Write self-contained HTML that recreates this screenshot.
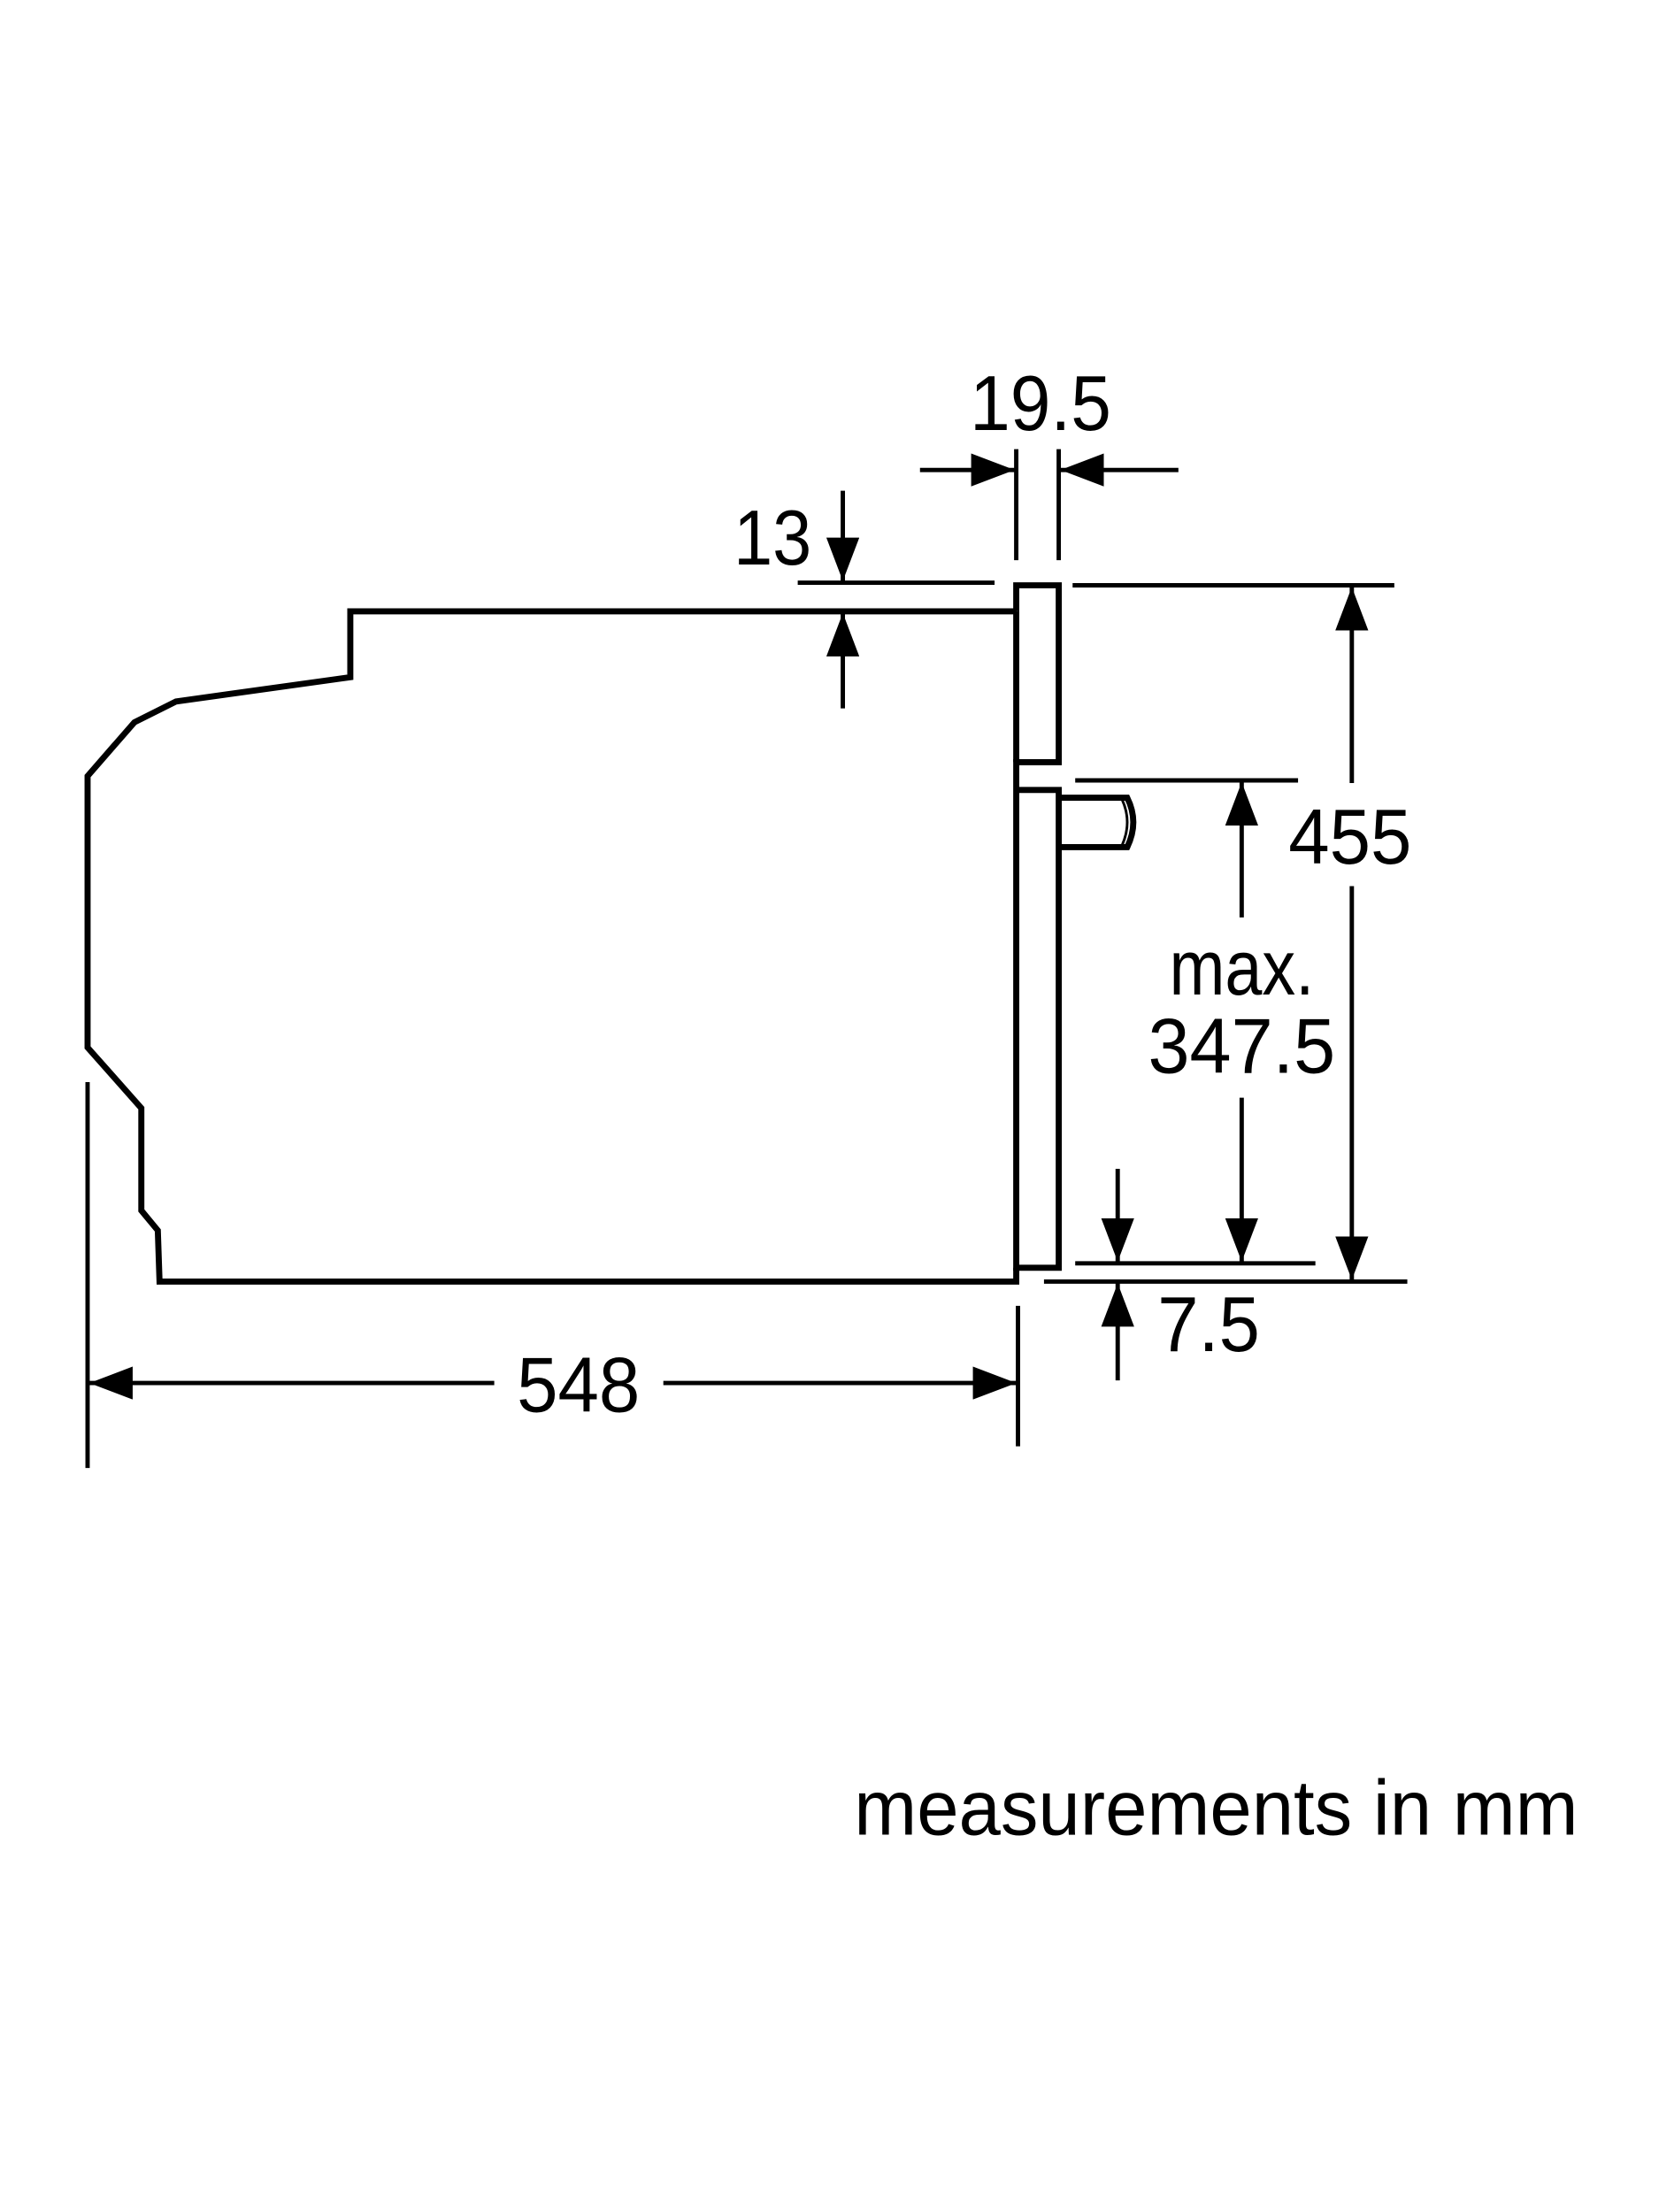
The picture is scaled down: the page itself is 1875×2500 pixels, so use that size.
<!DOCTYPE html>
<html><head><meta charset="utf-8"><style>html,body{margin:0;padding:0;background:#fff}svg{display:block}</style></head>
<body>
<svg width="1875" height="2500" viewBox="0 0 1875 2500" xmlns="http://www.w3.org/2000/svg" font-family="Liberation Sans, Arial, sans-serif">
<defs>
<marker id="ah" viewBox="0 0 50 38" refX="50" refY="19" markerWidth="50" markerHeight="38" markerUnits="userSpaceOnUse" orient="auto">
<path d="M0,0 L50,19 L0,38 Z" fill="#000"/>
</marker>
</defs>
<g transform="scale(0.98)">
<g fill="none" stroke="#000" stroke-width="7" stroke-linejoin="miter">
<polyline points="1172,705 404,705 404,781 203,809 155,833 101,895 101,1208 163,1278 163,1396 182,1419 184,1478 1172,1478 1172,1462"/>
<polyline points="1172,705 1172,675 1221,675 1221,879 1172,879 1172,911 1221,911 1221,1462 1172,1462 1172,911"/>
<line x1="1172" y1="705" x2="1172" y2="879"/>
<path d="M1221,920 L1300,920 Q1314,948 1300,977 L1221,977"/>
</g>
<path d="M1294,922 Q1306,948 1294,975" stroke="#000" stroke-width="3" fill="none"/>
<g stroke="#000" stroke-width="5" fill="none">
<line x1="1172" y1="518" x2="1172" y2="646"/>
<line x1="1221" y1="518" x2="1221" y2="646"/>
<line x1="1061" y1="542" x2="1170" y2="542" marker-end="url(#ah)"/>
<line x1="1359" y1="542" x2="1223" y2="542" marker-end="url(#ah)"/>
<line x1="920" y1="672" x2="1147" y2="672"/>
<line x1="972" y1="566" x2="972" y2="670" marker-end="url(#ah)"/>
<line x1="972" y1="817" x2="972" y2="707" marker-end="url(#ah)"/>
<line x1="1237" y1="675" x2="1608" y2="675"/>
<line x1="1204" y1="1478" x2="1623" y2="1478"/>
<line x1="1559" y1="903" x2="1559" y2="677" marker-end="url(#ah)"/>
<line x1="1559" y1="1022" x2="1559" y2="1476" marker-end="url(#ah)"/>
<line x1="1240" y1="900" x2="1497" y2="900"/>
<line x1="1240" y1="1457" x2="1517" y2="1457"/>
<line x1="1432" y1="1058" x2="1432" y2="902" marker-end="url(#ah)"/>
<line x1="1432" y1="1266" x2="1432" y2="1455" marker-end="url(#ah)"/>
<line x1="1289" y1="1348" x2="1289" y2="1455" marker-end="url(#ah)"/>
<line x1="1289" y1="1592" x2="1289" y2="1480" marker-end="url(#ah)"/>
<line x1="101" y1="1248" x2="101" y2="1693"/>
<line x1="1174" y1="1506" x2="1174" y2="1668"/>
<line x1="570" y1="1595" x2="103" y2="1595" marker-end="url(#ah)"/>
<line x1="765" y1="1595" x2="1172" y2="1595" marker-end="url(#ah)"/>
</g>
<g fill="#000" font-size="90">
<text x="1200" y="496" text-anchor="middle" textLength="163" lengthAdjust="spacingAndGlyphs">19.5</text>
<text x="891" y="651" text-anchor="middle" textLength="90" lengthAdjust="spacingAndGlyphs">13</text>
<text x="1557" y="996" text-anchor="middle" textLength="142" lengthAdjust="spacingAndGlyphs">455</text>
<text x="1432" y="1147" text-anchor="middle" textLength="167" lengthAdjust="spacingAndGlyphs">max.</text>
<text x="1432" y="1237" text-anchor="middle" textLength="216" lengthAdjust="spacingAndGlyphs">347.5</text>
<text x="1335" y="1558" textLength="118" lengthAdjust="spacingAndGlyphs">7.5</text>
<text x="667" y="1628" text-anchor="middle" textLength="142" lengthAdjust="spacingAndGlyphs">548</text>
<text x="985" y="2116" textLength="835" lengthAdjust="spacingAndGlyphs">measurements in mm</text>
</g>
</g>
</svg>
</body></html>
